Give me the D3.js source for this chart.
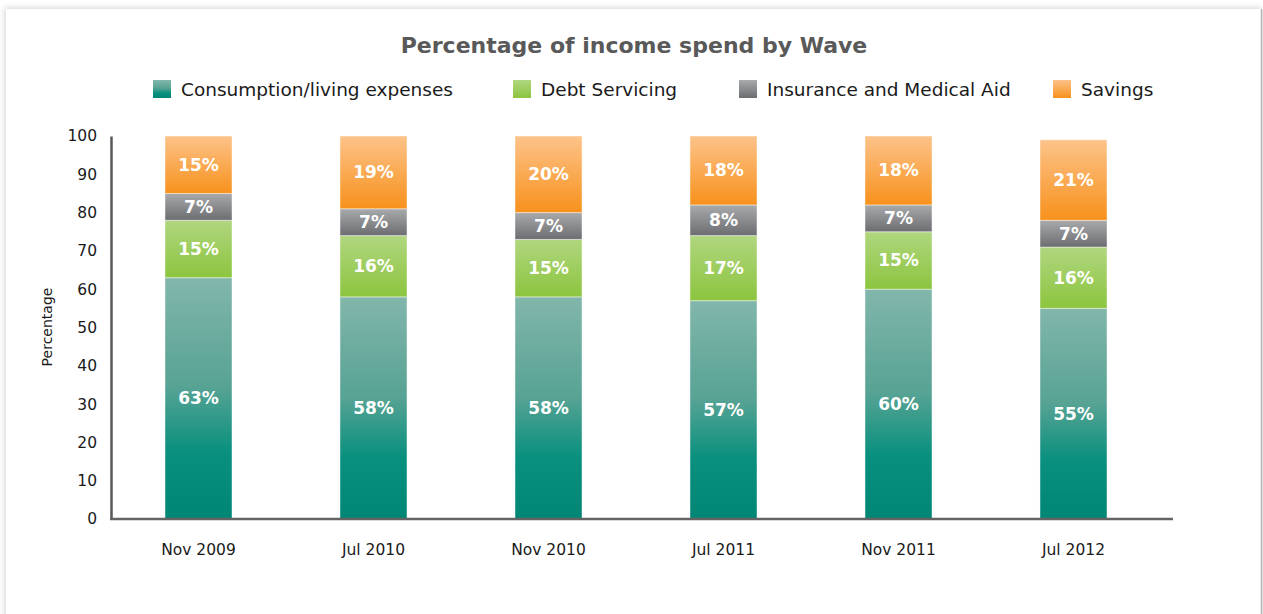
<!DOCTYPE html>
<html>
<head>
<meta charset="utf-8">
<script src="https://cdn.jsdelivr.net/npm/d3@7/dist/d3.min.js"></script>
<style>
  html, body { margin: 0; padding: 0; background: #ffffff; }
  svg { display: block; }
</style>
</head>
<body>
<svg id="chart" width="1263" height="614"></svg>
<script>
// Survey waves and the share of income in each spending category (%)
const waves = ["Nov 2009", "Jul 2010", "Nov 2010", "Jul 2011", "Nov 2011", "Jul 2012"];
const consumption = [63, 58, 58, 57, 60, 55];
const debtServicing = [15, 16, 15, 17, 15, 16];
const insurance = [7, 7, 7, 8, 7, 7];
const savings = [15, 19, 20, 18, 18, 21];
const seriesNames = ["Consumption/living expenses", "Debt Servicing", "Insurance and Medical Aid", "Savings"];
const yTicks = [0, 10, 20, 30, 40, 50, 60, 70, 80, 90, 100];

const rows = waves.map((w, i) => ({
  wave: w,
  "Consumption/living expenses": consumption[i],
  "Debt Servicing": debtServicing[i],
  "Insurance and Medical Aid": insurance[i],
  "Savings": savings[i]
}));

const gradStops = {
  "Consumption/living expenses": [[0, "#82b6ab"], [0.45, "#57a394"], [0.72, "#0a907e"], [1, "#008674"]],
  "Debt Servicing": [[0, "#b0d67f"], [1, "#8cc53f"]],
  "Insurance and Medical Aid": [[0, "#a9aaac"], [1, "#6c6d70"]],
  "Savings": [[0, "#fdc38a"], [1, "#f7911c"]]
};

const svg = d3.select("#chart");
const defs = svg.append("defs");

// soft card shadow
const f = defs.append("filter").attr("id", "cardShadow")
  .attr("x", "-5%").attr("y", "-5%").attr("width", "110%").attr("height", "110%");
f.append("feDropShadow").attr("dx", -1).attr("dy", -1).attr("stdDeviation", 3)
  .attr("flood-color", "#000").attr("flood-opacity", 0.18);

seriesNames.forEach((name, k) => {
  const g = defs.append("linearGradient").attr("id", "grad" + k)
    .attr("x1", 0).attr("y1", 0).attr("x2", 0).attr("y2", 1);
  gradStops[name].forEach(([o, c]) => g.append("stop").attr("offset", o).attr("stop-color", c));
});

// card
svg.append("rect").attr("x", 6).attr("y", 9).attr("width", 1256).attr("height", 640)
  .attr("fill", "#fff").attr("filter", "url(#cardShadow)");
svg.append("line").attr("x1", 1261.5).attr("x2", 1261.5).attr("y1", 9).attr("y2", 614)
  .attr("stroke", "#b3b3b3").attr("stroke-width", 1.5);

const font = "'DejaVu Sans', Verdana, sans-serif";

// title
svg.append("text").attr("x", 634).attr("y", 53).attr("text-anchor", "middle")
  .attr("font-family", font).attr("font-weight", "bold").attr("font-size", 22)
  .attr("fill", "#595959").text("Percentage of income spend by Wave");

// legend
const legendX = [153, 513, 739, 1053];
seriesNames.forEach((name, k) => {
  const g = svg.append("g").attr("transform", `translate(${legendX[k]},80)`);
  g.append("rect").attr("width", 18).attr("height", 18).attr("fill", `url(#grad${k})`);
  g.append("text").attr("x", 28).attr("y", 15.5)
    .attr("font-family", font).attr("font-size", 18.5).attr("fill", "#1a1a1a").text(name);
});

// scales
const x = d3.scaleBand().domain(waves).range([111, 1161]).paddingInner(0.617).paddingOuter(0.3085);
const y = d3.scaleLinear().domain([0, 100]).range([519, 136]);

const stacked = d3.stack().keys(seriesNames)(rows);

const layers = svg.append("g").selectAll("g").data(stacked).join("g")
  .attr("fill", (d, k) => `url(#grad${k})`);

layers.selectAll("rect").data(d => d).join("rect")
  .attr("x", d => x(d.data.wave))
  .attr("width", x.bandwidth())
  .attr("y", d => y(d[1]))
  .attr("height", d => y(d[0]) - y(d[1]))
  .attr("stroke", "rgba(255,255,255,0.45)")
  .attr("stroke-width", 1);

// value labels
layers.each(function (layer) {
  d3.select(this).selectAll("text").data(layer).join("text")
    .attr("x", d => x(d.data.wave) + x.bandwidth() / 2)
    .attr("y", d => y((d[0] + d[1]) / 2) + 6)
    .attr("text-anchor", "middle")
    .attr("font-family", font).attr("font-weight", "bold").attr("font-size", 17)
    .attr("fill", "#ffffff")
    .text(d => d.data[layer.key] + "%");
});

// y axis
const yAxis = svg.append("g").attr("transform", "translate(111,0)")
  .call(d3.axisLeft(y).tickValues(yTicks).tickSize(0).tickPadding(14));
yAxis.select(".domain").attr("stroke", "#595959").attr("stroke-width", 2.5);
yAxis.selectAll("text").attr("font-family", font).attr("font-size", 15.5).attr("fill", "#1a1a1a");

// x axis
const xAxis = svg.append("g").attr("transform", "translate(0,519)")
  .call(d3.axisBottom(x).tickSize(0).tickPadding(25));
xAxis.select(".domain").remove();
xAxis.selectAll("text").attr("font-family", font).attr("font-size", 15.5).attr("fill", "#1a1a1a");
svg.append("line").attr("x1", 110).attr("x2", 1173).attr("y1", 519).attr("y2", 519)
  .attr("stroke", "#646464").attr("stroke-width", 2.5);

// y axis title
svg.append("text").attr("transform", "translate(52,327) rotate(-90)")
  .attr("text-anchor", "middle").attr("font-family", font).attr("font-size", 14)
  .attr("fill", "#1a1a1a").text("Percentage");
</script>
</body>
</html>
